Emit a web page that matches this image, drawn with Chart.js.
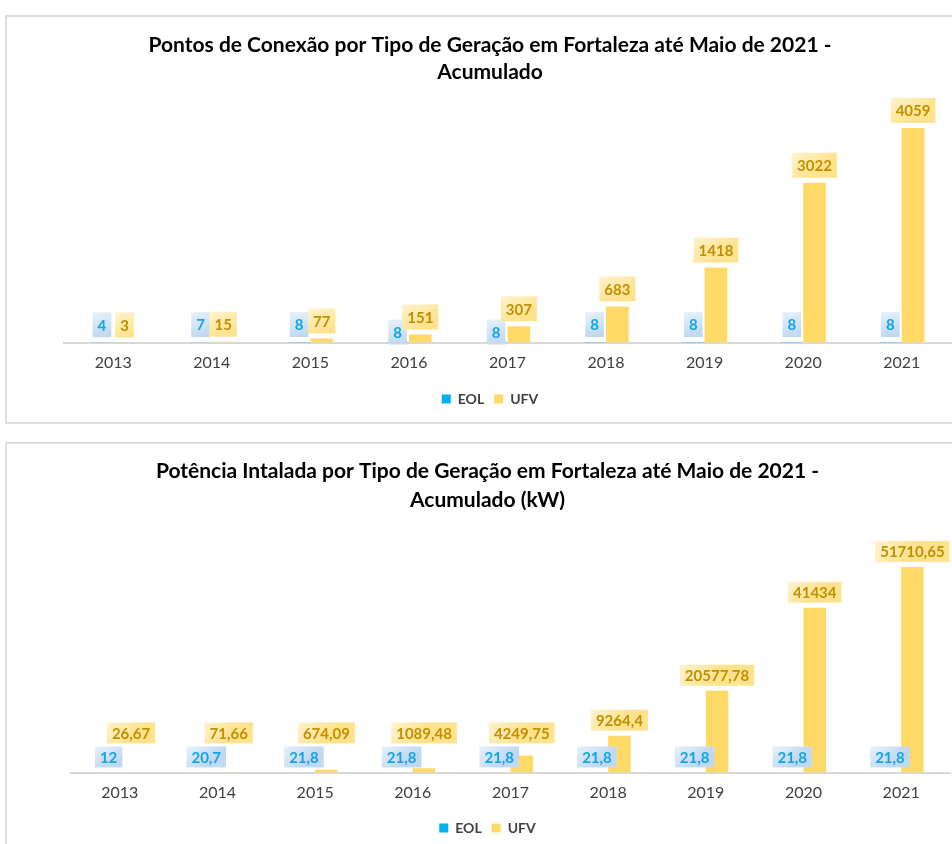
<!DOCTYPE html>
<html>
<head>
<meta charset="utf-8">
<script src="https://cdn.jsdelivr.net/npm/chart.js@4"></script>
<style>
  html, body { margin: 0; padding: 0; background: #fff; overflow: hidden; width: 952px; height: 844px; }
  .box { position: absolute; left: 5px; width: 970px; box-sizing: border-box; border: 2px solid #dedede; background: #fff; }
  #box1 { top: 15px; height: 409px; }
  #box2 { top: 442px; height: 412px; }
  canvas { display: block; }
</style>
</head>
<body>
<div class="box" id="box1"><canvas id="c1" width="966" height="405"></canvas></div>
<div class="box" id="box2"><canvas id="c2" width="966" height="408"></canvas></div>
<script>
// ---- data ----
const years = ['2013','2014','2015','2016','2017','2018','2019','2020','2021'];
const seriesNames = ['EOL','UFV'];
const pontosEOL = [4, 7, 8, 8, 8, 8, 8, 8, 8];
const pontosUFV = [3, 15, 77, 151, 307, 683, 1418, 3022, 4059];
const potenciaEOL = [12, 20.7, 21.8, 21.8, 21.8, 21.8, 21.8, 21.8, 21.8];
const potenciaUFV = [26.67, 71.66, 674.09, 1089.48, 4249.75, 9264.4, 20577.78, 41434, 51710.65];
const title1 = ['Pontos de Conexão por Tipo de Geração em Fortaleza até Maio de 2021 -', 'Acumulado'];
const title2 = ['Potência Intalada por Tipo de Geração em Fortaleza até Maio de 2021 -', 'Acumulado (kW)'];

const FONT = 'Lato, "Open Sans", sans-serif';
const COL_EOL = '#00b0f0';
const COL_UFV = '#ffd966';

function fmt(v) { return String(v).replace('.', ','); }

const boxLabels = {
  id: 'boxLabels',
  afterDatasetsDraw(chart, args, opts) {
    const ctx = chart.ctx;
    const axisY = chart.scales.y.getPixelForValue(0);
    ctx.save();
    ctx.font = 'bold ' + opts.fontSize + 'px ' + FONT;
    const n = chart.data.labels.length;
    for (let i = 0; i < n; i++) {
      const boxes = [0, 1].map(d => {
        const el = chart.getDatasetMeta(d).data[i];
        const text = fmt(chart.data.datasets[d].data[i]);
        const w = ctx.measureText(text).width + 2 * opts.padX;
        const h = opts.fontSize + 2 * opts.padY;
        const bottom = el.y - opts.gap;
        return { x: el.x - w / 2, y: bottom - h, w, h, text, d };
      });
      const e = boxes[0], u = boxes[1];
      const ovX = Math.min(e.x + e.w, u.x + u.w) - Math.max(e.x, u.x);
      const ovY = Math.min(e.y + e.h, u.y + u.h) - Math.max(e.y, u.y);
      if (ovX > 3 && ovY > 0) {
        if (opts.mode === 'down') { e.y = axisY + opts.downShift - e.h; }
        else { u.y = e.y - opts.stackGap - u.h; }
      }
      boxes.forEach(b => {
        const g = ctx.createLinearGradient(b.x, b.y, b.x + b.w * 0.4, b.y + b.h);
        if (b.d === 0) {
          g.addColorStop(0, '#e8f1fa');
          g.addColorStop(1, '#c0d8f0');
        } else {
          g.addColorStop(0, '#fff3cf');
          g.addColorStop(1, '#ffe28e');
        }
        ctx.fillStyle = g;
        ctx.fillRect(b.x, b.y, b.w, b.h);
        ctx.fillStyle = b.d === 0 ? '#12a5e6' : '#bf9000';
        ctx.textAlign = 'center';
        ctx.textBaseline = 'middle';
        ctx.fillText(b.text, b.x + b.w / 2, b.y + b.h / 2 + 1);
      });
    }
    ctx.restore();
  }
};

function makeChart(id, eol, ufv, title, cfg) {
  return new Chart(document.getElementById(id), {
    type: 'bar',
    data: {
      labels: years,
      datasets: [
        { label: seriesNames[0], data: eol, backgroundColor: COL_EOL, borderWidth: 0 },
        { label: seriesNames[1], data: ufv, backgroundColor: COL_UFV, borderWidth: 0 }
      ]
    },
    options: {
      responsive: false,
      animation: false,
      devicePixelRatio: 1,
      layout: { padding: { left: cfg.padLeft, right: cfg.padRight, top: 0, bottom: cfg.padBottom } },
      datasets: { bar: { categoryPercentage: 0.46, barPercentage: 1 } },
      scales: {
        x: {
          grid: { display: false, drawTicks: false },
          border: { display: true, color: '#d9d9d9', width: 2 },
          ticks: { color: '#404040', font: { family: FONT, size: 16 }, padding: 11 },
          afterFit: (s) => { s.height = cfg.xHeight; }
        },
        y: {
          display: true, min: 0, max: cfg.yMax,
          grid: { display: false, drawTicks: false },
          border: { display: false },
          ticks: { display: false },
          afterFit: (s) => { s.width = cfg.yWidth; }
        }
      },
      plugins: {
        title: {
          display: true,
          text: title,
          color: '#000',
          font: { family: FONT, size: 21, weight: 'bold', lineHeight: cfg.titleLH },
          padding: { top: cfg.titleTop, bottom: cfg.titleBottom }
        },
        legend: {
          position: 'bottom',
          labels: {
            boxWidth: 9, boxHeight: 9, padding: 10,
            color: '#404040',
            font: { family: FONT, size: 14, weight: 'bold' }
          }
        },
        tooltip: { enabled: false },
        boxLabels: cfg.labels
      }
    },
    plugins: [boxLabels]
  });
}

makeChart('c1', pontosEOL, pontosUFV, title1, {
  padLeft: 22, yWidth: 35, padRight: 22, padBottom: 6, xHeight: 39.5, yMax: 4700,
  titleLH: 27 / 21, titleTop: 15, titleBottom: 8,
  labels: { fontSize: 15, padX: 5, padY: 5, gap: 5, mode: 'down', downShift: 2, stackGap: 3 }
});
makeChart('c2', potenciaEOL, potenciaUFV, title2, {
  padLeft: 18, yWidth: 46, padRight: 23, padBottom: 7, xHeight: 38.5, yMax: 61000,
  titleLH: 29 / 21, titleTop: 12.5, titleBottom: 15.5,
  labels: { fontSize: 15, padX: 5, padY: 3, gap: 5, mode: 'up', downShift: 2, stackGap: 3 }
});
</script>
</body>
</html>
